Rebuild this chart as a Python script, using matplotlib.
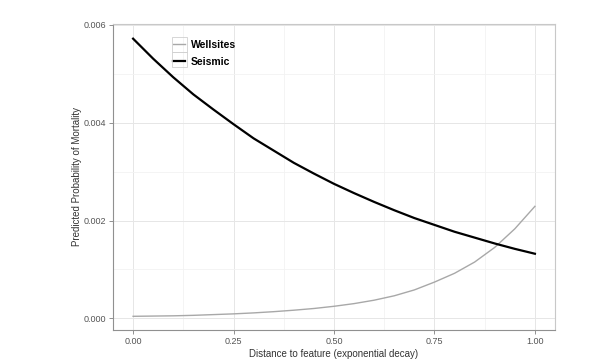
import numpy as np
from matplotlib import pyplot as plt
from matplotlib.patches import Rectangle
from matplotlib.ticker import MultipleLocator

# values at 0.05 steps
distance = [0.00, 0.05, 0.10, 0.15, 0.20, 0.25, 0.30, 0.35, 0.40, 0.45, 0.50,
            0.55, 0.60, 0.65, 0.70, 0.75, 0.80, 0.85, 0.90, 0.95, 1.00]
wellsites = [0.000040, 0.000045, 0.000050, 0.000060, 0.000075, 0.000090,
             0.000110, 0.000135, 0.000165, 0.000200, 0.000245, 0.000300,
             0.000370, 0.000460, 0.000580, 0.000740, 0.000920, 0.001150,
             0.001450, 0.001830, 0.002290]
seismic = [0.00572, 0.00531, 0.00493, 0.00458, 0.00427, 0.00397, 0.00368,
           0.00343, 0.00318, 0.00296, 0.00275, 0.00256, 0.00238, 0.00221,
           0.00205, 0.00191, 0.00177, 0.00165, 0.00153, 0.00142, 0.00132]

x_ticks = [0.0, 0.25, 0.5, 0.75, 1.0]
x_tick_labels = ['0.00', '0.25', '0.50', '0.75', '1.00']
y_ticks = [0.0, 0.002, 0.004, 0.006]
y_tick_labels = ['0.000', '0.002', '0.004', '0.006']

plt.rcParams['font.family'] = ['Liberation Sans', 'DejaVu Sans']

fig = plt.figure(figsize=(6, 3.6), dpi=100)
ax = fig.add_axes([113 / 600, 30 / 360, 442 / 600, 306 / 360])

ax.plot(distance, wellsites, color='#a8a8a8', lw=1.0, label='Wellsites')
ax.plot(distance, seismic, color='black', lw=1.6, label='Seismic')

ax.set_xlim(-0.05, 1.05)
ax.set_ylim(-0.00024, 0.00602)
ax.set_xticks(x_ticks)
ax.set_xticklabels(x_tick_labels)
ax.set_yticks(y_ticks)
ax.set_yticklabels(y_tick_labels)
ax.xaxis.set_minor_locator(MultipleLocator(0.125))
ax.yaxis.set_minor_locator(MultipleLocator(0.001))

ax.grid(which='major', color='#e6e6e6', lw=0.7)
ax.grid(which='minor', color='#f2f2f2', lw=0.6)
ax.set_axisbelow(True)

for side in ['top', 'right']:
    ax.spines[side].set_color('#c8c8c8')
for side in ['left', 'bottom']:
    ax.spines[side].set_color('#909090')
for spine in ax.spines.values():
    spine.set_linewidth(0.8)

ax.tick_params(which='major', length=3, width=0.6, color='#808080',
               labelsize=6.5, labelcolor='#555555', pad=2)
ax.tick_params(which='minor', length=0)

ax.set_xlabel('Distance to feature (exponential decay)', fontsize=7, color='#333333', labelpad=2)
ax.set_ylabel('Predicted Probability of Mortality', fontsize=7, color='#333333', labelpad=1)

leg = ax.legend(loc='upper left', bbox_to_anchor=(0.1165, 0.975), frameon=False,
                prop={'weight': 'bold', 'size': 7.5}, handlelength=1.2,
                handletextpad=0.5, labelspacing=0.65, borderpad=0.3)

# legend key boxes, ggplot style
for top in [37, 52]:
    fig.patches.append(Rectangle((172 / 600, 1 - (top + 15) / 360), 15 / 600, 15 / 360,
                                 transform=fig.transFigure, fill=False,
                                 edgecolor='#d0d0d0', lw=0.6))

fig.savefig('out.png', dpi=100)
